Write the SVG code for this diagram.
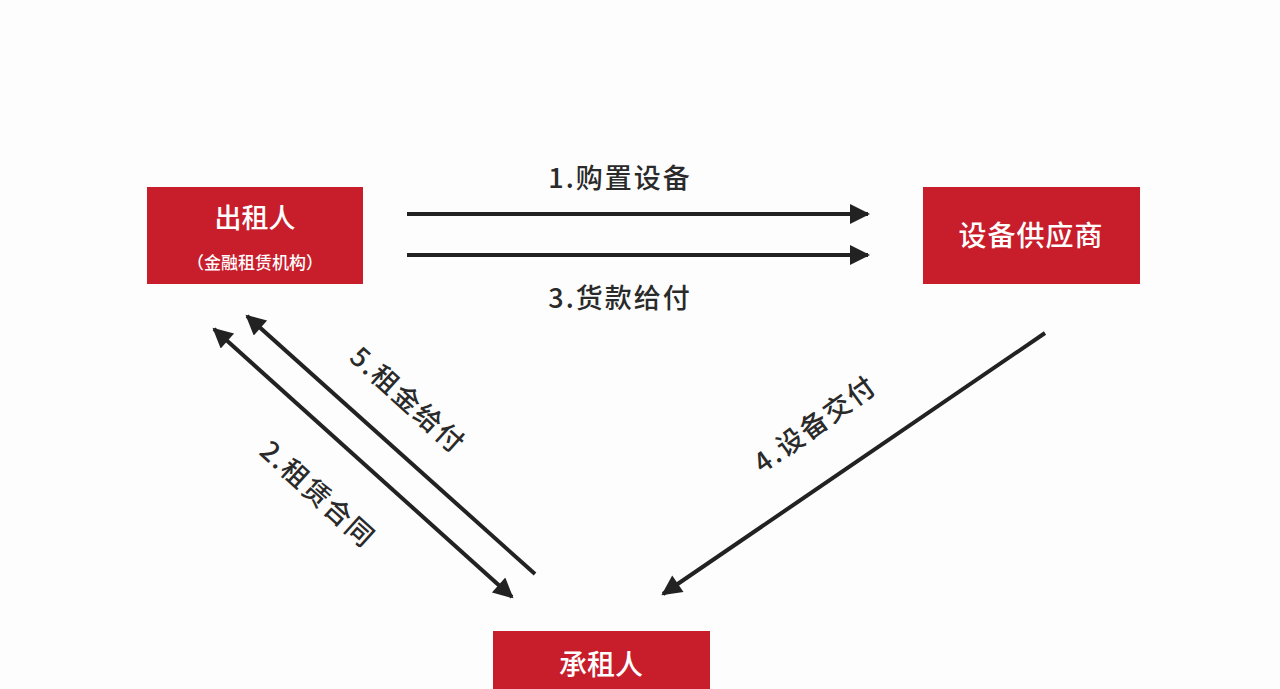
<svg xmlns="http://www.w3.org/2000/svg" width="1280" height="689" viewBox="0 0 1280 689">
<style>
.box{fill:#c81d2b;}
.nt{fill:#ffffff;font-family:"Noto Sans CJK SC","Noto Sans",sans-serif;text-anchor:middle;font-weight:500;}
.lb{fill:#2a2a2a;font-family:"Noto Sans CJK SC","Noto Sans",sans-serif;font-size:27px;font-weight:500;text-anchor:middle;letter-spacing:2px;}
.ln{stroke:#222;stroke-width:4;fill:none;}
</style>
<defs>
<marker id="ah" viewBox="0 0 10 10" refX="9" refY="5" markerWidth="6.5" markerHeight="5" orient="auto-start-reverse" markerUnits="strokeWidth">
<path d="M0,0 L10,5 L0,10 z" fill="#222"/>
</marker>
</defs>
<rect width="1280" height="689" fill="#fdfdfd"/>
<g id="lessor">
<rect class="box" x="147" y="187" width="216" height="97"/>
<text class="nt" x="255" y="228" font-size="27">出租人</text>
<text class="nt" x="255" y="269" font-size="17">（金融租赁机构）</text>
</g>
<g id="supplier">
<rect class="box" x="923" y="187" width="217" height="97"/>
<text class="nt" x="1031" y="246" font-size="28" letter-spacing="1">设备供应商</text>
</g>
<g id="lessee">
<rect class="box" x="493" y="631" width="217" height="70"/>
<text class="nt" x="601" y="675" font-size="28">承租人</text>
</g>
<g id="connectors">
<line class="ln" x1="407" y1="214" x2="868" y2="214" marker-end="url(#ah)"/>
<line class="ln" x1="407" y1="255" x2="868" y2="255" marker-end="url(#ah)"/>
<line class="ln" x1="535" y1="574" x2="247" y2="316" marker-end="url(#ah)"/>
<line class="ln" x1="214" y1="329" x2="512" y2="597" marker-start="url(#ah)" marker-end="url(#ah)"/>
<line class="ln" x1="1045" y1="333" x2="663" y2="594" marker-end="url(#ah)"/>
<text class="lb" x="620" y="188">1.购置设备</text>
<text class="lb" x="620" y="308">3.货款给付</text>
<text class="lb" transform="translate(408,400) rotate(42)" y="10">5.租金给付</text>
<text class="lb" transform="translate(318,494) rotate(42)" y="10">2.租赁合同</text>
<text class="lb" transform="translate(815,424) rotate(-36)" y="10">4.设备交付</text>
</g>
</svg>
